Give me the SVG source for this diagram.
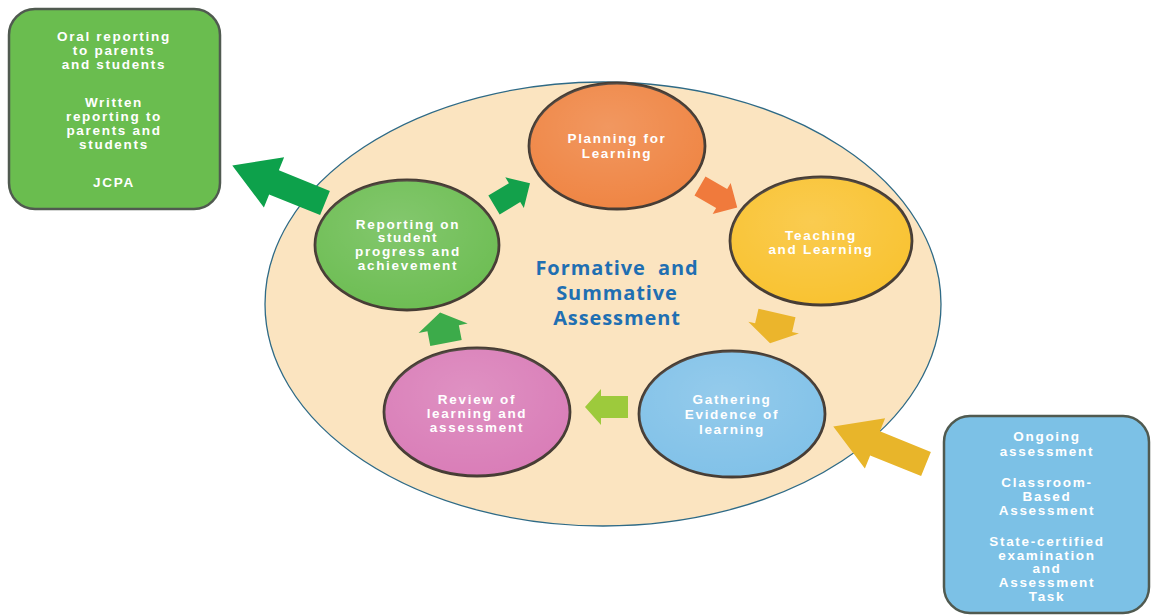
<svg xmlns="http://www.w3.org/2000/svg" width="1151" height="616" viewBox="0 0 1151 616">
<style>
.t{font-family:"Liberation Sans",Arial,sans-serif;font-weight:bold;font-size:13.5px;fill:#fff;text-anchor:middle;letter-spacing:1.7px}
.title{font-family:"Open Sans","Liberation Sans",sans-serif;font-weight:bold;font-size:20px;fill:#1f6fb2;text-anchor:middle;letter-spacing:0.9px}
.node{stroke:#463c34;stroke-width:2.8}
.box{stroke:#505a50;stroke-width:2.5}
</style>
<defs>
<radialGradient id="sheen" cx="0.45" cy="0.35" r="0.7">
<stop offset="0" stop-color="#fff" stop-opacity="0.16"/>
<stop offset="1" stop-color="#fff" stop-opacity="0"/>
</radialGradient>
</defs>
<rect width="1151" height="616" fill="#fff"/>
<g id="bg-ellipse">
<ellipse cx="603" cy="304" rx="338" ry="222" fill="#fbe4c0" stroke="#2e6a86" stroke-width="1.3"/>
</g>
<g id="connectors">
<path d="M0,-13 L55,-13 L55,-27 L100,0 L55,27 L55,13 L0,13 Z" fill="#0da14b" transform="translate(325,203) rotate(202)"/>
<path d="M0,-13 L55,-13 L55,-27 L100,0 L55,27 L55,13 L0,13 Z" fill="#e8b52a" transform="translate(926,464) rotate(202)"/>
<path d="M0,-11 L24,-11 L24,-18 L42,0 L24,18 L24,11 L0,11 Z" fill="#13a14b" transform="translate(494,205) rotate(-31)"/>
<path d="M0,-11 L25,-11 L25,-18 L43,0 L25,18 L25,11 L0,11 Z" fill="#f07a3c" transform="translate(700,186) rotate(30)"/>
<path d="M0,-19 L15,-19 L15,-26 L31,0 L15,26 L15,19 L0,19 Z" fill="#ebb52c" transform="translate(777,313) rotate(103)"/>
<path d="M0,-11 L27,-11 L27,-18 L43,0 L27,18 L27,11 L0,11 Z" fill="#9dca3c" transform="translate(628,407) rotate(180)"/>
<path d="M0,-16 L15,-16 L15,-25 L31,0 L15,25 L15,16 L0,16 Z" fill="#3cab4a" transform="translate(446,343) rotate(-101)"/>
</g>
<g id="box-reporting">
<rect x="9" y="9" width="211" height="200" rx="26" fill="#6abd4f" class="box"/>
<text class="t" x="114" y="41">Oral reporting</text>
<text class="t" x="114" y="55">to parents</text>
<text class="t" x="114" y="69">and students</text>
<text class="t" x="114" y="107">Written</text>
<text class="t" x="114" y="121">reporting to</text>
<text class="t" x="114" y="135">parents and</text>
<text class="t" x="114" y="149">students</text>
<text class="t" x="114" y="187">JCPA</text>
</g>
<g id="box-assessment">
<rect x="944" y="416" width="205" height="197" rx="26" fill="#7cc1e6" class="box"/>
<text class="t" x="1047" y="441">Ongoing</text>
<text class="t" x="1047" y="456">assessment</text>
<text class="t" x="1047" y="487">Classroom-</text>
<text class="t" x="1047" y="501">Based</text>
<text class="t" x="1047" y="515">Assessment</text>
<text class="t" x="1047" y="546">State-certified</text>
<text class="t" x="1047" y="560">examination</text>
<text class="t" x="1047" y="573">and</text>
<text class="t" x="1047" y="587">Assessment</text>
<text class="t" x="1047" y="601">Task</text>
</g>
<g id="node-planning">
<ellipse cx="617" cy="146" rx="88" ry="63" fill="#ef8442" class="node"/>
<ellipse cx="617" cy="146" rx="88" ry="63" fill="url(#sheen)"/>
<text class="t" x="617" y="143">Planning for</text>
<text class="t" x="617" y="158">Learning</text>
</g>
<g id="node-teaching">
<ellipse cx="821" cy="241" rx="91" ry="64" fill="#f9c22f" class="node"/>
<ellipse cx="821" cy="241" rx="91" ry="64" fill="url(#sheen)"/>
<text class="t" x="821" y="240">Teaching</text>
<text class="t" x="821" y="254">and Learning</text>
</g>
<g id="node-gathering">
<ellipse cx="732" cy="414" rx="93" ry="63" fill="#80c1e8" class="node"/>
<ellipse cx="732" cy="414" rx="93" ry="63" fill="url(#sheen)"/>
<text class="t" x="732" y="404">Gathering</text>
<text class="t" x="732" y="419">Evidence of</text>
<text class="t" x="732" y="434">learning</text>
</g>
<g id="node-review">
<ellipse cx="477" cy="412" rx="93" ry="64" fill="#d97cb7" class="node"/>
<ellipse cx="477" cy="412" rx="93" ry="64" fill="url(#sheen)"/>
<text class="t" x="477" y="404">Review of</text>
<text class="t" x="477" y="418">learning and</text>
<text class="t" x="477" y="432">assessment</text>
</g>
<g id="node-reporting">
<ellipse cx="407" cy="245" rx="92" ry="65" fill="#6cbd52" class="node"/>
<ellipse cx="407" cy="245" rx="92" ry="65" fill="url(#sheen)"/>
<text class="t" x="408" y="229">Reporting on</text>
<text class="t" x="408" y="242">student</text>
<text class="t" x="408" y="256">progress and</text>
<text class="t" x="408" y="270">achievement</text>
</g>
<g id="title">
<text class="title" x="617" y="275">Formative &#160;and</text>
<text class="title" x="617" y="300">Summative</text>
<text class="title" x="617" y="325">Assessment</text>
</g>
</svg>
